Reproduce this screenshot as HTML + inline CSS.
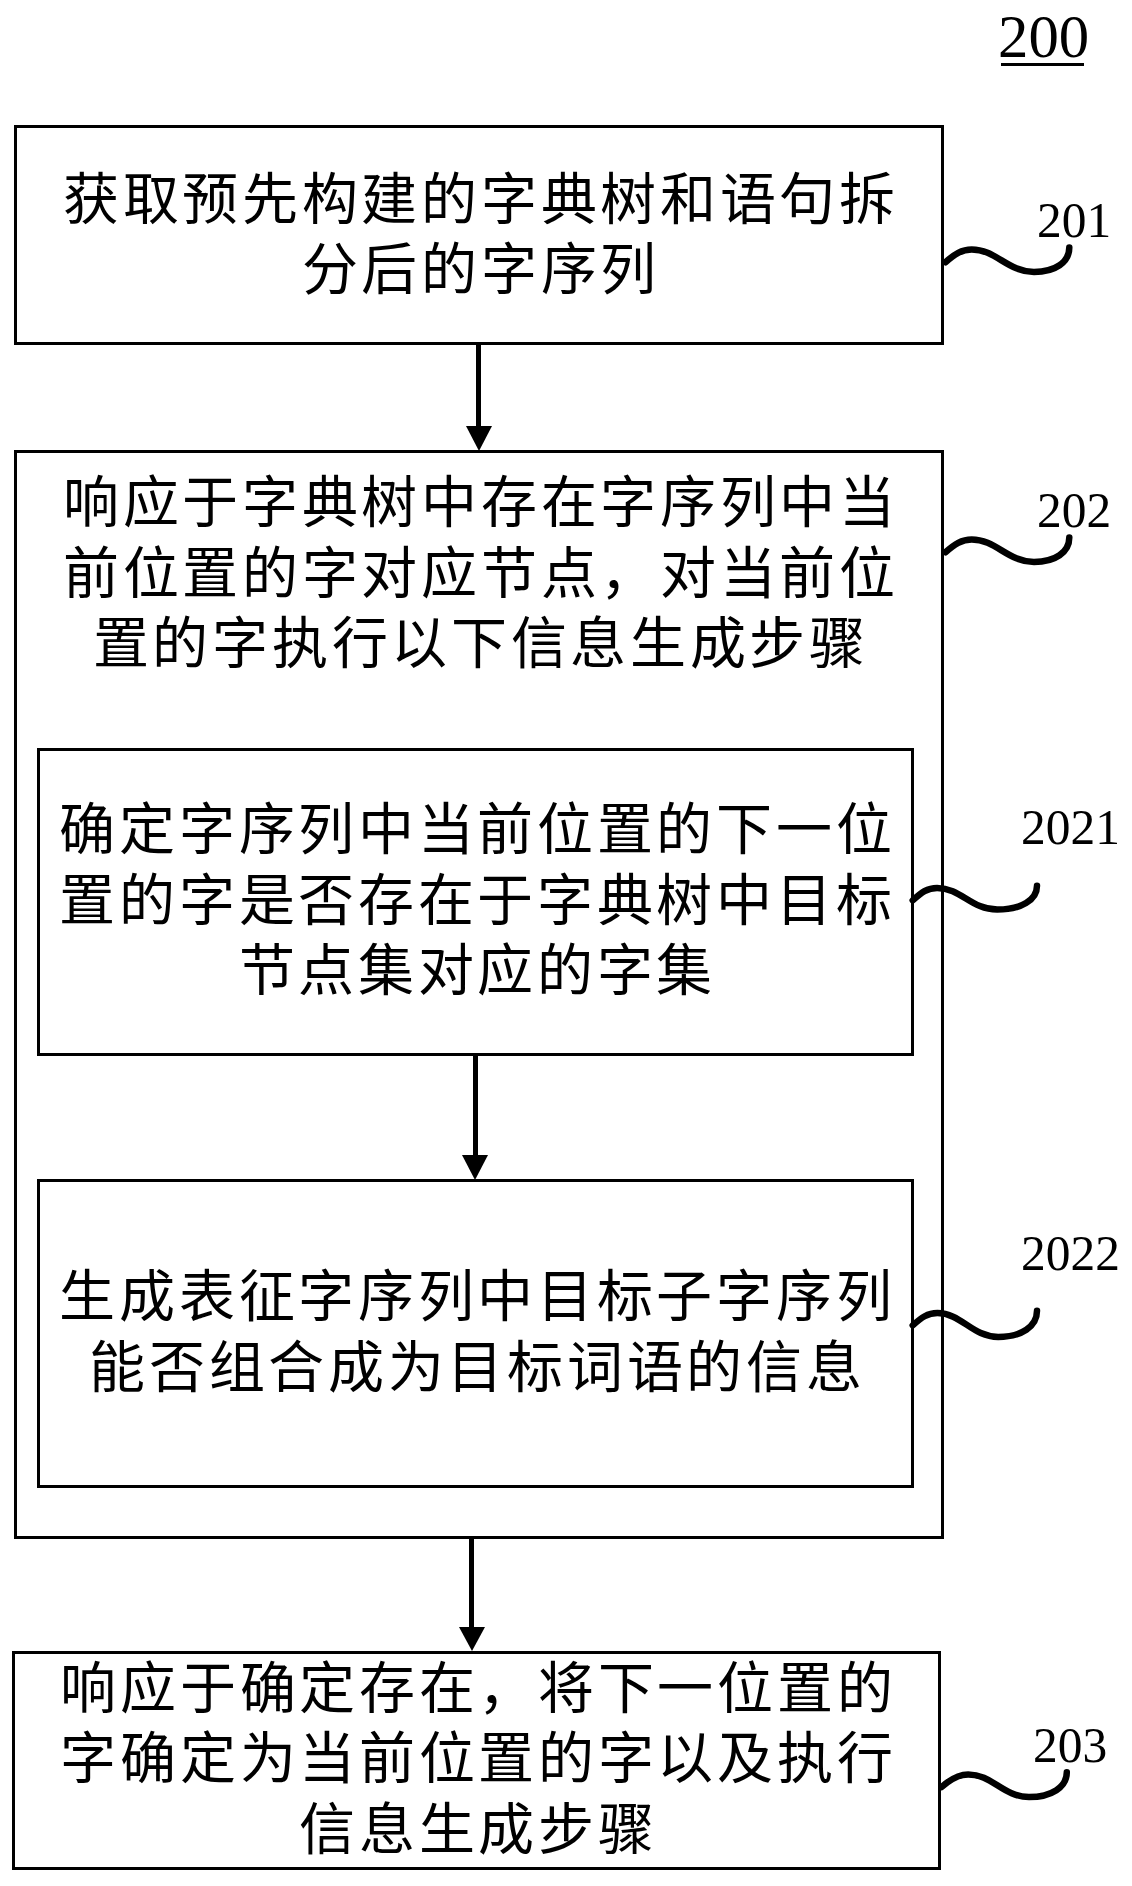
<!DOCTYPE html>
<html lang="zh-CN"><head><meta charset="utf-8"><title>200</title>
<style>
html,body{margin:0;padding:0;background:#fff;}
body{width:1132px;height:1886px;position:relative;overflow:hidden;}
.t{position:absolute;height:70px;line-height:70px;font-family:"Liberation Serif",serif;font-size:56px;letter-spacing:3.7px;text-align:center;color:#000;white-space:nowrap;padding-left:3.7px;box-sizing:border-box;}
.n{position:absolute;line-height:1;font-family:"Liberation Serif",serif;color:#000;white-space:nowrap;}
</style></head><body>
<svg width="1132" height="1886" viewBox="0 0 1132 1886" style="position:absolute;left:0;top:0">
<g fill="none" stroke="#000" stroke-width="3">
<rect x="15.5" y="126.5" width="927" height="217"/>
<rect x="15.5" y="451.5" width="927" height="1086"/>
<rect x="38.5" y="749.5" width="874" height="305"/>
<rect x="38.5" y="1180.5" width="874" height="306"/>
<rect x="13.5" y="1652.5" width="926" height="216"/>
</g>
<g fill="#000">
<rect x="476" y="344" width="5" height="84"/>
<path d="M466,426 L492,426 L479,451 Z"/>
<rect x="473" y="1055" width="5" height="102"/>
<path d="M462,1155 L488,1155 L475,1180 Z"/>
<rect x="469" y="1538" width="5" height="91"/>
<path d="M459,1627 L485,1627 L472,1651 Z"/>
<rect x="1001" y="63" width="83" height="3"/>
</g>
<g fill="none" stroke="#000" stroke-width="6.5" stroke-linecap="round">
<path d="M945.5,262.2 C954.5,254.2 961.7,249.39999999999998 971.7,249.39999999999998 C995.7,249.39999999999998 1008.0,272.0 1034.0,272.0 C1055.2,272.0 1069.3,262.2 1069.3,247.5"/>
<path d="M945.5,552.2 C954.5,544.2 961.7,539.4000000000001 971.7,539.4000000000001 C995.7,539.4000000000001 1008.0,562.0 1034.0,562.0 C1055.2,562.0 1069.3,552.2 1069.3,537.5"/>
<path d="M912.7,900.4 C921.7,892.4 927.1,888.0 937.1,888.0 C961.1,888.0 971.2,909.6 997.2,909.6 C1021.1,909.6 1037.0,900.0 1037.0,885.6999999999999"/>
<path d="M912.7,1325.4 C921.7,1317.4 927.4000000000001,1313.1000000000001 937.4000000000001,1313.1000000000001 C961.4000000000001,1313.1000000000001 972.2,1336.9 998.2,1336.9 C1021.5,1336.9 1037.0,1326.5 1037.0,1310.8000000000002"/>
<path d="M941.5,1787.1 C950.5,1779.1 958.2,1774.3999999999999 968.2,1774.3999999999999 C992.2,1774.3999999999999 1003.0,1797.0 1029.0,1797.0 C1051.7,1797.0 1066.8,1787.1 1066.8,1772.1999999999998"/>
</g>
</svg>
<div class="t" style="left:-21.0px;top:164.5px;width:1000px">获取预先构建的字典树和语句拆</div>
<div class="t" style="left:-21.0px;top:235.0px;width:1000px">分后的字序列</div>
<div class="t" style="left:-21.0px;top:468.0px;width:1000px">响应于字典树中存在字序列中当</div>
<div class="t" style="left:-21.0px;top:538.5px;width:1000px">前位置的字对应节点，对当前位</div>
<div class="t" style="left:-21.0px;top:609.0px;width:1000px">置的字执行以下信息生成步骤</div>
<div class="t" style="left:-24.5px;top:795.0px;width:1000px">确定字序列中当前位置的下一位</div>
<div class="t" style="left:-24.5px;top:865.5px;width:1000px">置的字是否存在于字典树中目标</div>
<div class="t" style="left:-24.5px;top:936.0px;width:1000px">节点集对应的字集</div>
<div class="t" style="left:-24.5px;top:1262.0px;width:1000px">生成表征字序列中目标子字序列</div>
<div class="t" style="left:-24.5px;top:1332.5px;width:1000px">能否组合成为目标词语的信息</div>
<div class="t" style="left:-23.5px;top:1653.5px;width:1000px">响应于确定存在，将下一位置的</div>
<div class="t" style="left:-23.5px;top:1724.0px;width:1000px">字确定为当前位置的字以及执行</div>
<div class="t" style="left:-23.5px;top:1794.5px;width:1000px">信息生成步骤</div>
<div class="n" style="left:997.7px;top:4.5px;font-size:62px;transform:scaleX(0.98);transform-origin:0 0">200</div>
<div class="n" style="left:1036.6px;top:194.2px;font-size:51.5px;transform:scaleX(0.96);transform-origin:0 0">201</div>
<div class="n" style="left:1036.6px;top:484.2px;font-size:51.5px;transform:scaleX(0.96);transform-origin:0 0">202</div>
<div class="n" style="left:1021.0px;top:801.4px;font-size:51.5px;transform:scaleX(0.96);transform-origin:0 0">2021</div>
<div class="n" style="left:1021.0px;top:1226.6px;font-size:51.5px;transform:scaleX(0.96);transform-origin:0 0">2022</div>
<div class="n" style="left:1033.4px;top:1719.4px;font-size:51.5px;transform:scaleX(0.96);transform-origin:0 0">203</div>
</body></html>
